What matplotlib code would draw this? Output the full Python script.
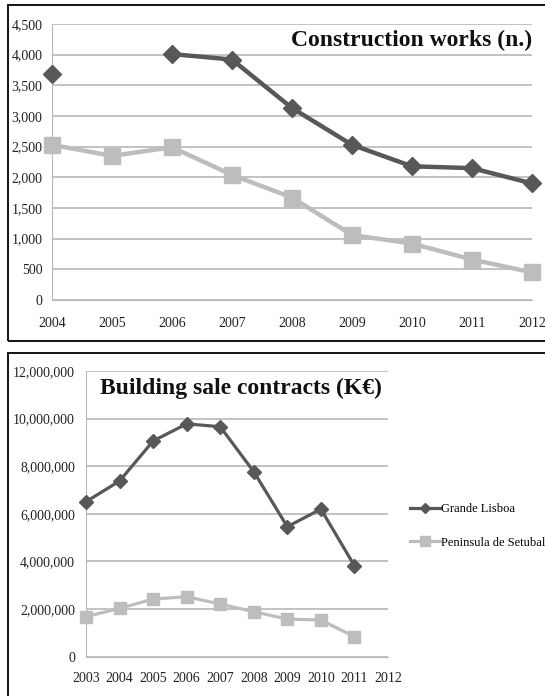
import numpy as np
import matplotlib
matplotlib.use("Agg")
import matplotlib.pyplot as plt
from matplotlib.patches import Rectangle
from matplotlib.ticker import FuncFormatter

plt.rcParams['font.family'] = ['Liberation Serif', 'DejaVu Serif']

# top chart: construction works
anos_obras = ['2004', '2005', '2006', '2007', '2008', '2009', '2010', '2011', '2012']
obras_lisboa = [3680, np.nan, 4010, 3920, 3130, 2530, 2180, 2150, 1900]
obras_setubal = [2530, 2350, 2490, 2040, 1670, 1060, 920, 660, 450]

# bottom chart: building sale contracts
anos_vendas = ['2003', '2004', '2005', '2006', '2007', '2008', '2009', '2010', '2011', '2012']
vendas_lisboa = [6510000, 7380000, 9060000, 9780000, 9660000, 7770000, 5460000, 6200000, 3820000, np.nan]
vendas_setubal = [1680000, 2030000, 2420000, 2520000, 2210000, 1890000, 1580000, 1540000, 840000, np.nan]

escuro = '#585858'
claro = '#bdbdbd'
grade = '#b8b8b8'

W, H = 545, 696
fig = plt.figure(figsize=(W / 100, H / 100), dpi=100)


def eixo(x0, x1, y_top, y_bot):
    return fig.add_axes([x0 / W, (H - y_bot) / H, (x1 - x0) / W, (y_bot - y_top) / H])


def estilo(ax):
    for s in ['top', 'right']:
        ax.spines[s].set_visible(False)
    ax.spines['left'].set_color(grade)
    ax.spines['bottom'].set_color(grade)
    ax.grid(axis='y', color=grade, linewidth=1.2)
    ax.set_axisbelow(True)
    ax.tick_params(length=0, labelsize=10, colors='#222222')
    ax.yaxis.set_major_formatter(FuncFormatter(lambda v, p: f"{int(v):,}"))


# panel borders
fig.add_artist(Rectangle((8 / W, (H - 340.5) / H), 560 / W, 335.5 / H, transform=fig.transFigure,
                         fill=False, edgecolor='black', linewidth=1.3))
fig.add_artist(Rectangle((8 / W, (H - 720) / H), 560 / W, (720 - 352.7) / H, transform=fig.transFigure,
                         fill=False, edgecolor='black', linewidth=1.3))

# top
ax1 = eixo(52, 532, 24, 300)
x1 = np.arange(len(anos_obras))
ax1.plot(x1, obras_lisboa, color=escuro, linewidth=3.2, marker='D', markersize=9, clip_on=False, zorder=3)
ax1.plot(x1, obras_setubal, color=claro, linewidth=3.2, marker='s', markersize=11, clip_on=False, zorder=3)
ax1.set_xlim(0, len(anos_obras) - 1)
ax1.set_ylim(0, 4500)
ax1.set_yticks(np.arange(0, 4501, 500))
ax1.set_xticks(x1)
ax1.set_xticklabels(anos_obras)
estilo(ax1)
ax1.tick_params(axis='x', pad=12)
ax1.tick_params(axis='y', pad=7)
ax1.text(1.0, 0.942, 'Construction works (n.)', transform=ax1.transAxes, ha='right', va='center',
         fontsize=17, fontweight='bold', color='#111111')

# bottom
ax2 = eixo(86, 388, 371, 656.7)
x2 = np.arange(len(anos_vendas))
ax2.plot(x2, vendas_lisboa, color=escuro, linewidth=2.3, marker='D', markersize=7, clip_on=False,
         zorder=3, label='Grande Lisboa')
ax2.plot(x2, vendas_setubal, color=claro, linewidth=2.3, marker='s', markersize=9, clip_on=False,
         zorder=3, label='Peninsula de Setubal')
ax2.set_xlim(0, len(anos_vendas) - 1)
ax2.set_ylim(0, 12000000)
ax2.set_yticks(np.arange(0, 12000001, 2000000))
ax2.set_xticks(x2)
ax2.set_xticklabels(anos_vendas)
estilo(ax2)
ax2.tick_params(axis='x', pad=11)
ax2.tick_params(axis='y', pad=8)
ax2.text(0.513, 0.94, 'Building sale contracts (K€)', transform=ax2.transAxes, ha='center', va='center',
         fontsize=17, fontweight='bold', color='#111111')
ax2.legend(loc='center left', bbox_to_anchor=(400 / W, (H - 526) / H), bbox_transform=fig.transFigure,
           frameon=False, fontsize=9, handlelength=2.4, handletextpad=0.1, labelspacing=1.7,
           markerscale=0.8, borderpad=0.3)

fig.savefig('out.png', dpi=100)
